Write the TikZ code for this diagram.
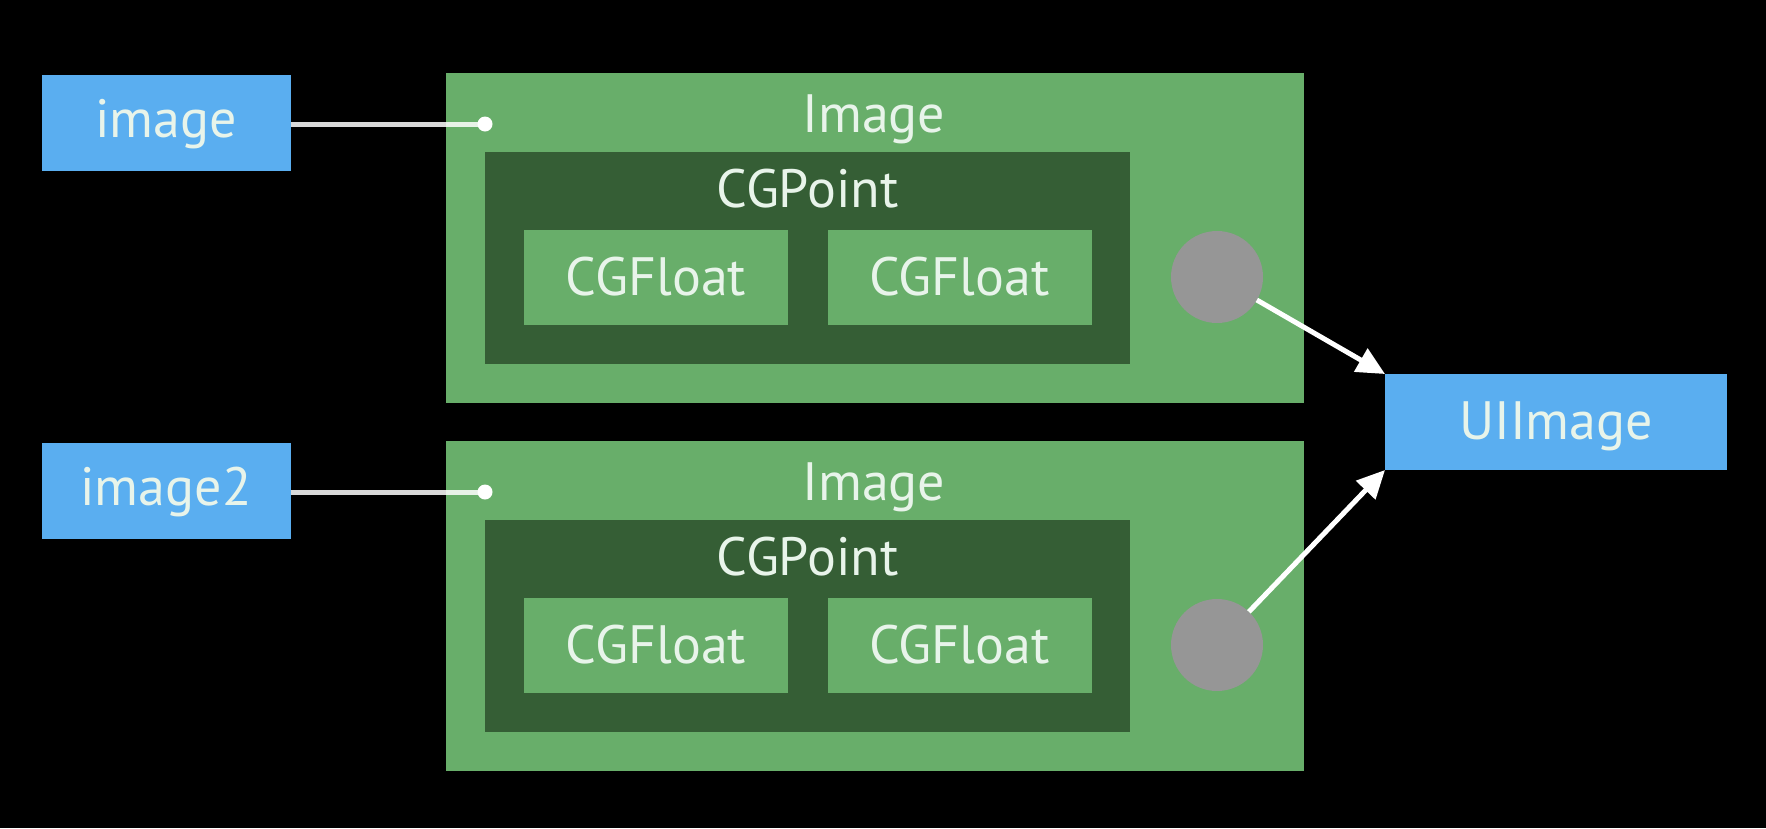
\documentclass[tikz,border=0pt]{standalone}
\usepackage{fontspec}
\setmainfont{PT Sans}
\usetikzlibrary{arrows.meta}
\definecolor{bluec}{RGB}{90,174,240}
\definecolor{greenc}{RGB}{104,174,106}
\definecolor{darkc}{RGB}{53,94,53}
\definecolor{grayc}{RGB}{150,150,150}
\definecolor{textc}{RGB}{232,244,234}
\begin{document}
\begin{tikzpicture}[x=1pt,y=-1pt,
  every node/.style={inner sep=0pt,outer sep=0pt},
  lbl/.style={text=textc,font=\fontsize{54}{60}\selectfont,anchor=base},
  bluebox/.style={rectangle,fill=bluec,text=textc,font=\fontsize{54}{60}\selectfont},
  outerbox/.style={rectangle,fill=greenc,minimum width=858pt,minimum height=330pt},
  pointbox/.style={rectangle,fill=darkc,minimum width=645pt,minimum height=212pt},
  floatbox/.style={rectangle,fill=greenc,minimum width=264pt,minimum height=95pt},
  refdot/.style={circle,fill=grayc,minimum size=92pt},
  conn/.style={draw=white,draw opacity=0.85,line width=5pt},
  arr/.style={draw=white,line width=5pt,-{Triangle[length=28pt,width=26pt]}}]
\fill[black] (0,0) rectangle (1766,828);
\useasboundingbox (0,0) rectangle (1766,828);

% top Image
\node[outerbox] (outer1) at (875,238) {};
\node[lbl] (imglbl1) at (874,132) {Image};
\node[pointbox] (pt1) at (807.5,258) {};
\node[lbl] (ptlbl1) at (807.5,207) {CGPoint};
\node[floatbox] (fa1) at (656,277.5) {};
\node[lbl] (falbl1) at (656,295) {CGFloat};
\node[floatbox] (fb1) at (959.5,277.5) {};
\node[lbl] (fblbl1) at (959.5,295) {CGFloat};
\node[refdot] (c1) at (1217,277) {};

% bottom Image
\node[outerbox] (outer2) at (875,606) {};
\node[lbl] (imglbl2) at (874,500) {Image};
\node[pointbox] (pt2) at (807.5,626) {};
\node[lbl] (ptlbl2) at (807.5,575) {CGPoint};
\node[floatbox] (fa2) at (656,645.5) {};
\node[lbl] (falbl2) at (656,663) {CGFloat};
\node[floatbox] (fb2) at (959.5,645.5) {};
\node[lbl] (fblbl2) at (959.5,663) {CGFloat};
\node[refdot] (c2) at (1217,645) {};

% variables
\node[bluebox,minimum width=249pt,minimum height=96pt] (img) at (166,123) {};
\node[lbl] (imgtxt) at (166,137) {image};
\node[bluebox,minimum width=249pt,minimum height=96pt] (img2) at (166,491) {};
\node[lbl] (img2txt) at (166,505) {image2};
\node[bluebox,minimum width=342pt,minimum height=96pt] (ui) at (1556,422) {};
\node[lbl] (uitxt) at (1556,439) {UIImage};

% connectors
\coordinate (d1) at (485,124);
\coordinate (d2) at (485,492);
\draw[conn] (img.east |- d1) -- (d1);
\draw[conn] (img2.east |- d2) -- (d2);
\fill[white] (d1) circle (7.5);
\fill[white] (d2) circle (7.5);
\draw[arr] (c1) -- (ui.north west);
\draw[arr] (c2) -- (ui.south west);
\end{tikzpicture}
\end{document}
